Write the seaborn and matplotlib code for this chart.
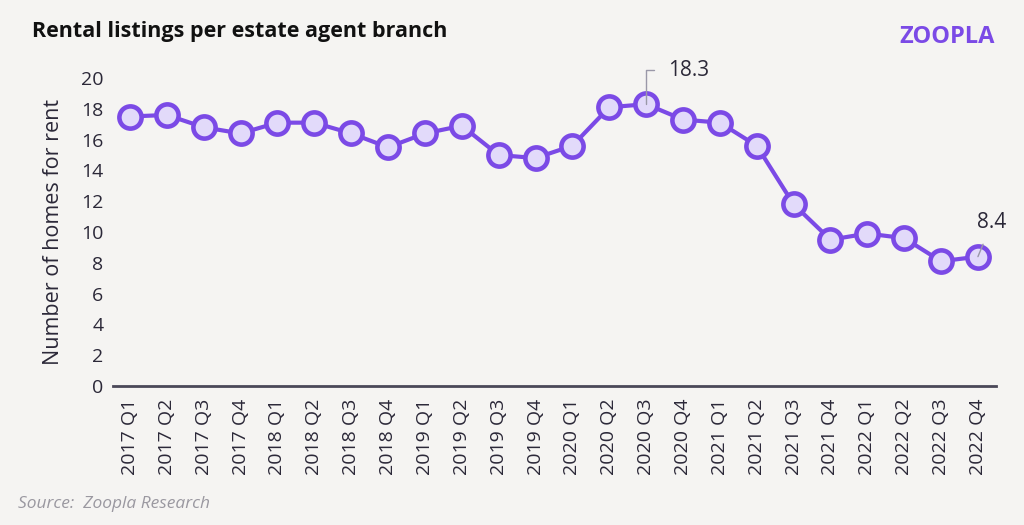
"""
Rental listings per estate agent branch (Zoopla chart recreation)
"""

import pandas as pd
import matplotlib.pyplot as plt
import seaborn as sns

# Data
quarters = [f"{y} Q{q}" for y in range(2017, 2023) for q in range(1, 5)]
listings = [17.5, 17.6, 16.8, 16.4, 17.1, 17.1, 16.4, 15.5,
            16.4, 16.9, 15.0, 14.8, 15.6, 18.1, 18.3, 17.3,
            17.1, 15.6, 11.8, 9.5, 9.9, 9.6, 8.1, 8.4]
y_ticks = list(range(0, 21, 2))

title = "Rental listings per estate agent branch"
y_label = "Number of homes for rent"
source = "Source:  Zoopla Research"

# Style
BG = "#f5f4f2"
PURPLE = "#7b4ae6"
FILL = "#e2dafa"
TEXT = "#2b2838"

sns.set_theme(style="white")
plt.rcParams['font.family'] = ['Open Sans', 'DejaVu Sans']

df = pd.DataFrame({'Quarter': quarters, 'Listings': listings})
df['Pos'] = range(len(df))

fig = plt.figure(figsize=(10.24, 5.25), dpi=100, facecolor=BG)
ax = fig.add_axes([113 / 1024, 1 - 386 / 525, 883 / 1024, 308 / 525])
ax.set_facecolor(BG)

sns.lineplot(data=df, x='Pos', y='Listings', ax=ax, color=PURPLE, linewidth=3,
             marker='o', markersize=16, markerfacecolor=FILL,
             markeredgecolor=PURPLE, markeredgewidth=3.3, zorder=3, clip_on=False)

ax.set_xlim(-0.46, len(quarters) - 1 + 0.49)
ax.set_ylim(0, 20)
ax.set_yticks(y_ticks)
ax.set_yticklabels([str(t) for t in y_ticks], fontsize=14, color=TEXT)
ax.set_xticks(df['Pos'])
ax.set_xticklabels(quarters, rotation=90, fontsize=14, color=TEXT)
ax.tick_params(axis='both', length=0, pad=7)
ax.tick_params(axis='x', pad=9)
ax.set_xlabel('')
ax.set_ylabel(y_label, fontsize=15.5, color=TEXT, labelpad=12)

sns.despine(ax=ax, left=True)
ax.spines['bottom'].set_color('#4a4858')
ax.spines['bottom'].set_linewidth(2)

# Annotations for peak and latest
peak_i = quarters.index("2020 Q3")
last_i = len(quarters) - 1
ax.annotate(f"{listings[peak_i]:.1f}", xy=(peak_i, listings[peak_i]),
            xytext=(peak_i + 0.6, 20.5), fontsize=15, color=TEXT,
            va='center', ha='left', annotation_clip=False,
            arrowprops=dict(arrowstyle='-', color='#9a98a8', lw=1,
                            connectionstyle='angle,angleA=0,angleB=90,rad=0',
                            shrinkA=8, shrinkB=0))
ax.annotate(f"{listings[last_i]:.1f}", xy=(last_i, listings[last_i]),
            xytext=(last_i + 0.38, 10.6), fontsize=15, color=TEXT,
            va='center', ha='center', annotation_clip=False,
            arrowprops=dict(arrowstyle='-', color='#9a98a8', lw=1,
                            shrinkA=6, shrinkB=0))

fig.text(32 / 1024, 1 - 32 / 525, title, fontsize=15.5, fontweight='bold',
         color='#111111', va='center', ha='left')
fig.text(995 / 1024, 1 - 37 / 525, "ZOOPLA", fontsize=17, fontweight='bold',
         color=PURPLE, va='center', ha='right')
fig.text(18 / 1024, 1 - 504 / 525, source, fontsize=12.5, fontstyle='italic',
         color='#9a98a0', va='center', ha='left')

plt.savefig('out.png', dpi=100, facecolor=BG)
plt.close()
